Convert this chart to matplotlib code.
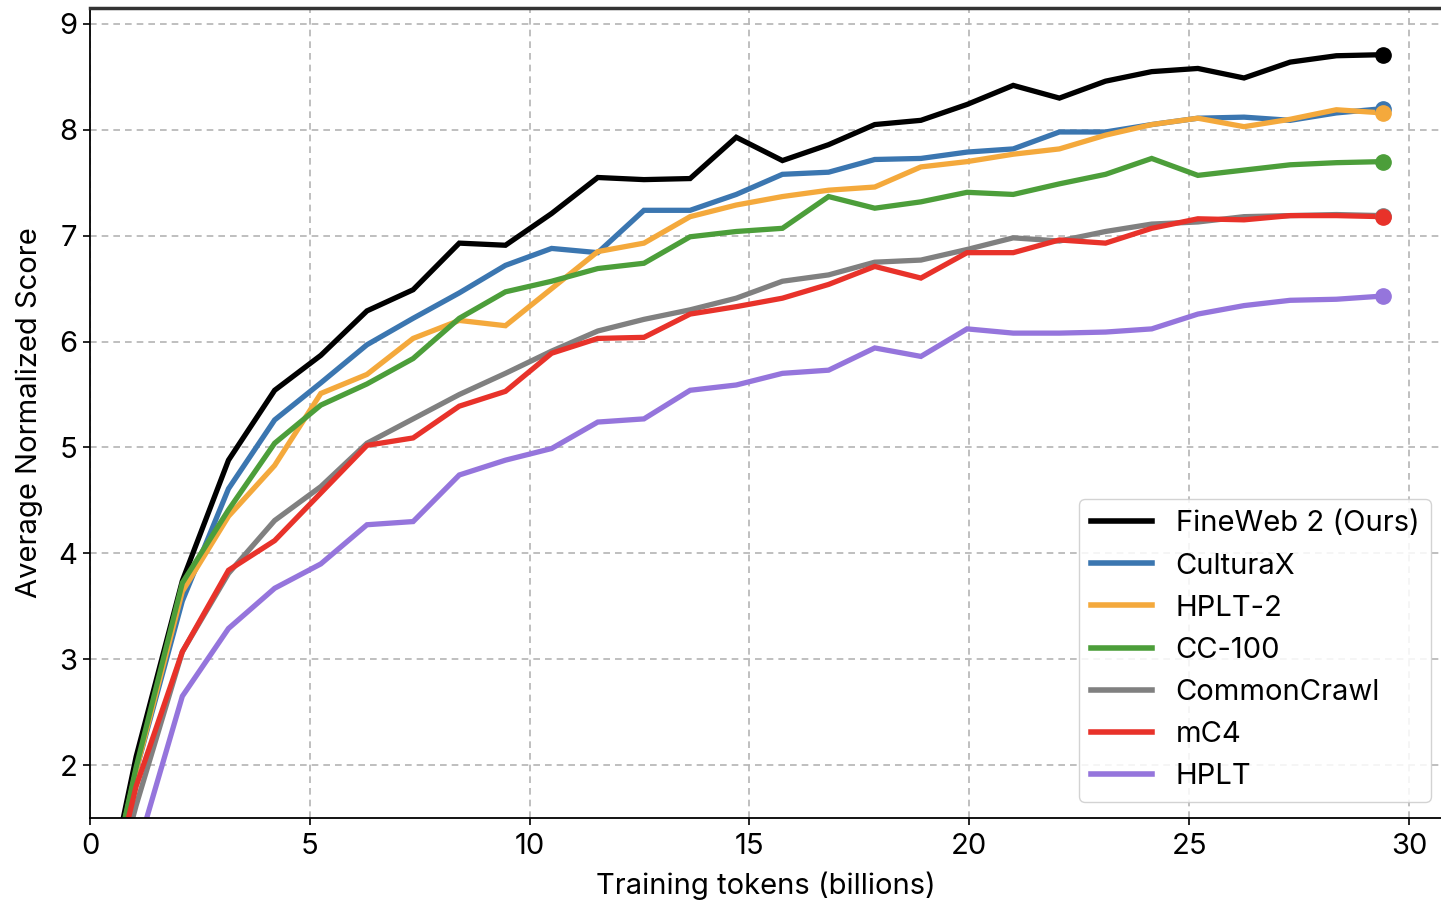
import matplotlib
matplotlib.use("Agg")
import matplotlib.pyplot as plt

plt.rcParams['font.family'] = ['Inter', 'DejaVu Sans']

tokens = [0, 1.05, 2.1, 3.15, 4.2, 5.25, 6.3, 7.35, 8.4, 9.45, 10.5, 11.55, 12.6,
          13.65, 14.7, 15.75, 16.8, 17.85, 18.9, 19.95, 21.0, 22.05, 23.1, 24.15,
          25.2, 26.25, 27.3, 28.35, 29.4]

fineweb2 = [0, 2.08, 3.74, 4.88, 5.54, 5.87, 6.29, 6.49, 6.93, 6.91, 7.21, 7.55, 7.53,
            7.54, 7.93, 7.71, 7.86, 8.05, 8.09, 8.24, 8.42, 8.30, 8.46, 8.55, 8.58,
            8.49, 8.64, 8.70, 8.71]
culturax = [0, 1.95, 3.55, 4.61, 5.26, 5.61, 5.97, 6.22, 6.46, 6.72, 6.88, 6.84, 7.24,
            7.24, 7.39, 7.58, 7.60, 7.72, 7.73, 7.79, 7.82, 7.98, 7.98, 8.05, 8.11,
            8.12, 8.09, 8.16, 8.20]
hplt2 = [0, 1.95, 3.64, 4.35, 4.83, 5.51, 5.69, 6.03, 6.20, 6.15, 6.50, 6.85, 6.93,
         7.18, 7.29, 7.37, 7.43, 7.46, 7.65, 7.70, 7.77, 7.82, 7.95, 8.05, 8.11,
         8.03, 8.10, 8.19, 8.16]
cc100 = [0, 1.98, 3.72, 4.41, 5.04, 5.40, 5.60, 5.84, 6.22, 6.47, 6.57, 6.69, 6.74,
         6.99, 7.04, 7.07, 7.37, 7.26, 7.32, 7.41, 7.39, 7.49, 7.58, 7.73, 7.57,
         7.62, 7.67, 7.69, 7.70]
commoncrawl = [0, 1.62, 3.07, 3.81, 4.31, 4.63, 5.04, 5.27, 5.50, 5.70, 5.91, 6.10, 6.21,
               6.30, 6.41, 6.57, 6.63, 6.75, 6.77, 6.87, 6.98, 6.95, 7.04, 7.11, 7.13,
               7.18, 7.19, 7.20, 7.19]
mc4 = [0, 1.80, 3.07, 3.84, 4.12, 4.57, 5.02, 5.09, 5.39, 5.53, 5.89, 6.03, 6.04,
       6.26, 6.33, 6.41, 6.54, 6.71, 6.60, 6.84, 6.84, 6.96, 6.93, 7.07, 7.16,
       7.15, 7.19, 7.19, 7.18]
hplt = [0, 1.16, 2.65, 3.29, 3.67, 3.90, 4.27, 4.30, 4.74, 4.88, 4.99, 5.24, 5.27,
        5.54, 5.59, 5.70, 5.73, 5.94, 5.86, 6.12, 6.08, 6.08, 6.09, 6.12, 6.26,
        6.34, 6.39, 6.40, 6.43]

series_names = ["FineWeb 2 (Ours)", "CulturaX", "HPLT-2", "CC-100", "CommonCrawl", "mC4", "HPLT"]
series_values = [fineweb2, culturax, hplt2, cc100, commoncrawl, mc4, hplt]
series_colors = ["#000000", "#3b76b0", "#f4a93c", "#4c9e3a", "#808080", "#e8322a", "#9575dc"]

x_ticks = [0, 5, 10, 15, 20, 25, 30]
y_ticks = [2, 3, 4, 5, 6, 7, 8, 9]

fig = plt.figure(figsize=(14.41, 9.01), dpi=100)
ax = fig.add_axes([90 / 1441, 83 / 901, 1 - 90 / 1441, (818 - 8) / 901])

for name, vals, col in zip(series_names, series_values, series_colors):
    ax.plot(tokens, vals, color=col, lw=3.8, label=name, solid_joinstyle='miter')
    ax.plot(tokens[-1], vals[-1], 'o', color=col, markersize=11, zorder=5)

ax.set_xlim(0, 30.73)
ax.set_ylim(1.5, 9.151)
ax.set_xticks(x_ticks)
ax.set_yticks(y_ticks)
ax.tick_params(labelsize=21, length=5, width=1.2, colors='black', pad=4)
ax.tick_params(axis='x', pad=6)
ax.grid(True, ls=(0, (4, 3)), color='#b4b4b4', lw=1.2)
ax.set_axisbelow(True)
ax.spines['right'].set_visible(False)
ax.spines['top'].set_linewidth(2.5)
ax.spines['top'].set_color('#333333')
ax.spines['left'].set_linewidth(1.3)
ax.spines['bottom'].set_linewidth(1.3)

ax.set_xlabel("Training tokens (billions)", fontsize=21, labelpad=8)
ax.set_ylabel("Average Normalized Score", fontsize=21, labelpad=11)

leg = ax.legend(loc='lower right', bbox_to_anchor=(1431 / 1441, 99 / 901),
                bbox_transform=fig.transFigure, borderaxespad=0, fontsize=21,
                handlelength=2.1, handletextpad=0.8, labelspacing=0.52,
                frameon=True, fancybox=True, framealpha=0.85, edgecolor='#cccccc',
                borderpad=0.4)
for h in leg.get_lines():
    h.set_linewidth(4)

fig.savefig("out.png", dpi=100)
